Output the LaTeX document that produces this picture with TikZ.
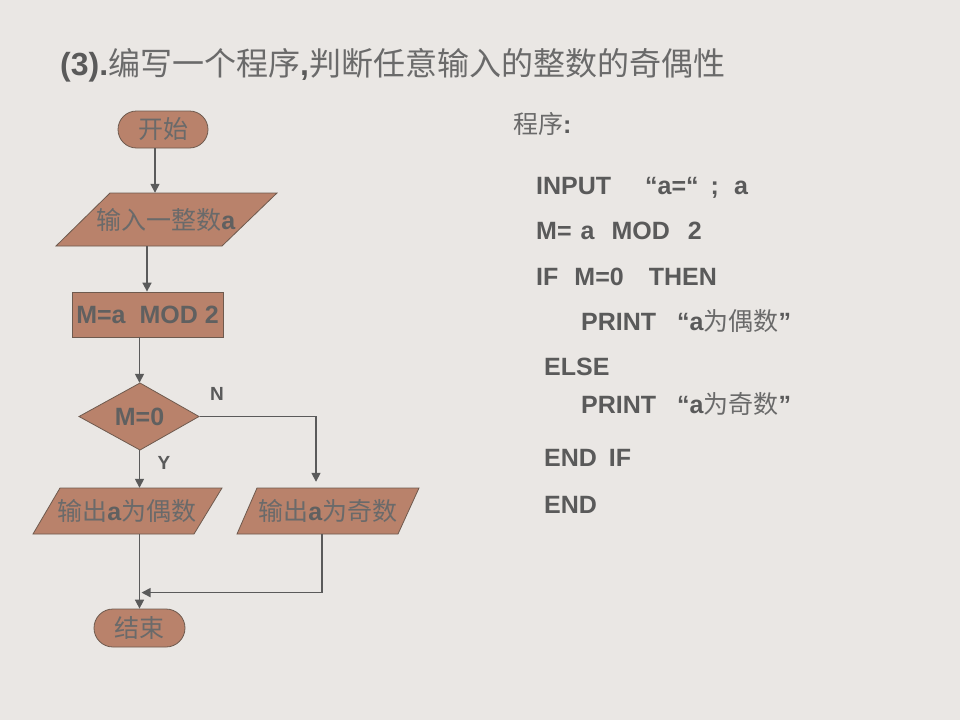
\documentclass[tikz,border=0pt]{standalone}
\usepackage{fontspec}
\setmainfont{Liberation Sans}
\newfontfamily\cjk{Noto Sans CJK SC}
\usetikzlibrary{arrows.meta,calc}
\definecolor{bg}{HTML}{EAE7E4}
\definecolor{boxfill}{HTML}{B9826B}
\definecolor{boxline}{HTML}{6E5A4E}
\definecolor{ink}{HTML}{5A5A5A}
\definecolor{txt}{HTML}{606060}
\definecolor{zhtxt}{HTML}{6A6A6A}
\newcommand\zh[1]{{\cjk\mdseries\color{zhtxt}#1}}
\begin{document}
\begin{tikzpicture}[x=1pt,y=-1pt,
  box/.style={draw=boxline,fill=boxfill,line width=0.8pt},
  arr/.style={draw=ink,line width=1.6pt,-{Triangle[width=9pt,length=9pt]}},
  lbl/.style={text=txt,font=\fontsize{25}{30}\selectfont,inner sep=0pt},
  code/.style={anchor=base west,inner sep=0pt,text=ink,font=\fontsize{25}{30}\selectfont\bfseries},
  yn/.style={inner sep=0pt,text=ink,font=\fontsize{19}{22}\selectfont\bfseries}]
\fill[bg] (0,0) rectangle (960,720);
\useasboundingbox (0,0) rectangle (960,720);

% title
\node[anchor=base west,inner sep=0pt,text=ink,font=\fontsize{32}{38}\selectfont] (title) at (60,75)
  {\textbf{(3).}\zh{编写一个程序}\textbf{,}\zh{判断任意输入的整数的奇偶性}};

% flowchart shapes
\node[box,lbl,rounded corners=18.5pt,minimum width=90pt,minimum height=37pt] (start) at (163,129.5) {\zh{开始}};

\path[box] (110,193) -- (277,193) -- (222,246) -- (56,246) -- cycle;
\node[lbl,minimum height=53pt] (in) at (166,219.5) {\zh{输入一整数}\textbf{a}};

\node[box,lbl,minimum width=151pt,minimum height=45pt] (calc) at (147.5,314.5) {\textbf{M=a\ \ MOD 2}};

\path[box] (140,383) -- (199,416.5) -- (140,450) -- (79,416.5) -- cycle;
\node[lbl,minimum height=67pt,minimum width=120pt] (dec) at (139.5,416.5) {\textbf{M=0}};

\path[box] (60,488) -- (222,488) -- (194,534) -- (33,534) -- cycle;
\node[lbl,minimum height=46pt] (even) at (127,511) {\zh{输出}\textbf{a}\zh{为偶数}};

\path[box] (257,488) -- (419,488) -- (398,534) -- (237,534) -- cycle;
\node[lbl,minimum height=46pt] (odd) at (328,511) {\zh{输出}\textbf{a}\zh{为奇数}};

\node[box,lbl,rounded corners=19pt,minimum width=91pt,minimum height=38pt] (end) at (139.5,628) {\zh{结束}};

% connectors
\draw[arr] ([xshift=-8pt]start.south) -- ([xshift=-8pt]start.south |- in.north);
\draw[arr] ([xshift=-19pt]in.south) -- ([xshift=-19pt]in.south |- calc.north);
\draw[arr] (dec.north |- calc.south) -- (dec.north);
\draw[arr] (dec.south) -- (dec.south |- even.north);
\draw[arr] (dec.east) -| ([xshift=-12pt,yshift=6pt]odd.north);
\draw[arr] (end.north |- even.south) -- (end.north);
\coordinate (merge) at ($(end.north)+(2,-16)$);
\draw[arr] ([xshift=-6pt]odd.south) |- (merge);

\node[yn] (nlab) at (217,394) {N};
\node[yn] (ylab) at (164,463) {Y};

% program text
\node[anchor=base west,inner sep=0pt,font=\fontsize{25}{30}\selectfont,text=ink] (prog) at (513,133) {\zh{程序}\textbf{:}};
\node[code] (l1) at (536,194) {INPUT\hspace{34pt}“a=“\hspace{12pt};\hspace{15pt}a};
\node[code] (l2) at (536,239.5) {M=\hspace{9pt}a\hspace{17pt}MOD\hspace{18pt}2};
\node[code] (l3) at (536,285) {IF\hspace{16pt}M=0\hspace{25pt}THEN};
\node[code] (l4) at (581,330) {PRINT\hspace{21pt}“a\zh{为偶数}”};
\node[code] (l5) at (544,375.5) {ELSE};
\node[code] (l6) at (581,413.5) {PRINT\hspace{21pt}“a\zh{为奇数}”};
\node[code] (l7) at (544,466) {END\hspace{12pt}IF};
\node[code] (l8) at (544,513.5) {END};
\end{tikzpicture}
\end{document}
